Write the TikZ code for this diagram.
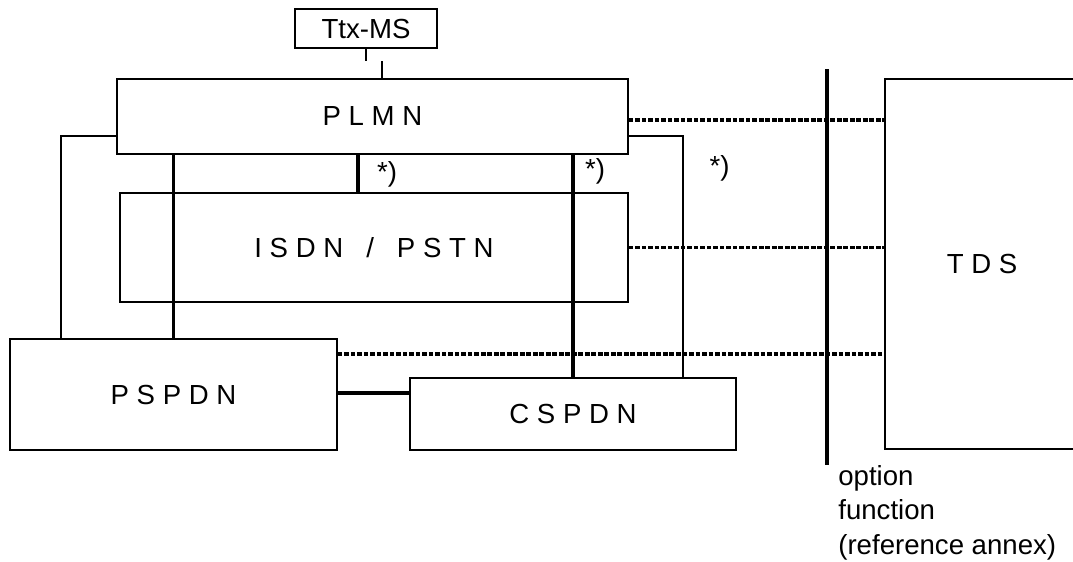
\documentclass[tikz,border=0pt]{standalone}
\usepackage{fontspec}
\setmainfont{Liberation Sans}
\usepackage{tikz}
\usetikzlibrary{positioning,calc}
\tikzstyle{net} = [draw=black, rectangle, line width=1pt, inner sep=0pt]
\tikzstyle{wire} = [draw, line width=0.9pt]
\tikzstyle{link} = [draw, line width=1.9pt]
\tikzstyle{dotline} = [draw, line width=1.8pt, dash pattern=on 2.6pt off 1.1pt]

\begin{document}
\begin{tikzpicture}[font=\fontsize{15.7}{19.6}\selectfont]
\useasboundingbox (0,0) rectangle (21.46,-11.22);

\node (plmn) [net, minimum width=10.22cm, minimum height=1.5cm] at (7.45,-2.33) {P L M N};

\node (ttx) [net, above of=plmn, node distance=1.76cm, xshift=-0.13cm, minimum width=2.84cm, minimum height=0.78cm] {Ttx-MS};

\node (isdn) [net, below of=plmn, node distance=2.62cm, xshift=0.03cm, minimum width=10.16cm, minimum height=2.18cm] {I S D N\ \ \ /\ \ \ P S T N};

\node (pspdn) [net, below of=isdn, node distance=2.94cm, xshift=-4.01cm, minimum width=6.54cm, minimum height=2.22cm] {P S P D N};

\node (cspdn) [net, right of=pspdn, node distance=7.99cm, yshift=-0.39cm, minimum width=6.52cm, minimum height=1.44cm] {C S P D N};

\node (tds) [net, right of=isdn, node distance=12.16cm, yshift=-0.33cm, minimum width=3.88cm, minimum height=7.4cm] {T D S};

% Ttx-MS hookup (offset stub)
\coordinate (ttxend) at ([yshift=-0.24cm]ttx.south);
\coordinate (plmnin) at ([xshift=0.19cm]plmn.north);
\coordinate (plmnstub) at ([yshift=0.34cm]plmnin);
\path [wire, line width=1.5pt] (ttx.south) -- (ttxend);
\path [wire, line width=1.5pt] (plmnin) -- (plmnstub);

% thin side lines
\coordinate (plmnw) at ([yshift=-0.39cm]plmn.west);
\coordinate (plmne) at ([yshift=-0.39cm]plmn.east);
\path [wire] (plmnw) -| ([xshift=1.04cm]pspdn.north west);
\path [wire] (plmne) -| ([xshift=-1.08cm]cspdn.north east);

% thick links
\coordinate (isdnlink) at ([xshift=-0.29cm]plmn.south);
\path [link] (plmn.south -| pspdn.north) -- (pspdn.north);
\path [link] (isdnlink) -- (isdnlink |- isdn.north);
\path [link] (plmn.south -| cspdn.north) -- (cspdn.north);
\coordinate (cspdnin) at ([yshift=0.42cm]cspdn.west);
\path [link] (cspdnin -| pspdn.east) -- (cspdnin);

\node (star0) at (7.74,-3.48) {*)};
\node (star1) at (11.90,-3.42) {*)};
\node (star2) at (14.39,-3.36) {*)};

% option line and dotted links to TDS
\coordinate (bartop) at (16.54,-1.38);
\coordinate (barbot) at (16.54,-9.30);
\path [draw, line width=1.8pt] (bartop) -- (barbot);

\coordinate (plmnd) at ([yshift=-0.07cm]plmn.east);
\coordinate (pspdnd) at ([yshift=0.81cm]pspdn.east);
\path [dotline] (plmnd) -- (plmnd -| tds.west);
\path [dotline] (isdn.east) -- (isdn.east -| tds.west);
\path [dotline] (pspdnd) -- (pspdnd -| tds.west);

\node (note) [anchor=north west, inner sep=0pt, align=left, xshift=0.22cm] at (barbot) {option\\function\\(reference annex)};

\end{tikzpicture}
\end{document}
